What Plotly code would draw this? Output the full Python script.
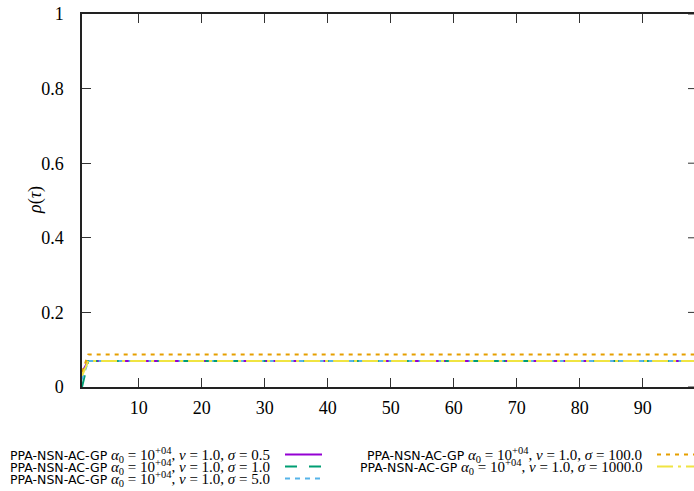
import plotly.graph_objects as go

# data
tau = [1, 2, 100]
sigma_labels = ["0.5", "1.0", "5.0", "100.0", "1000.0"]
rho_s05 = [0.040, 0.070, 0.070]
rho_s1 = [0.000, 0.070, 0.070]
rho_s5 = [0.020, 0.070, 0.070]
rho_s100 = [0.040, 0.087, 0.087]
rho_s1000 = [0.030, 0.070, 0.070]
rho_all = [rho_s05, rho_s1, rho_s5, rho_s100, rho_s1000]

x_ticks = [10, 20, 30, 40, 50, 60, 70, 80, 90, 100]
y_ticks = [0, 0.2, 0.4, 0.6, 0.8, 1]
y_ticklabels = ["0", "0.2", "0.4", "0.6", "0.8", "1"]

colors = ["#9400d3", "#009e73", "#56b4e9", "#e69f00", "#f0e442"]
dashes = ["solid", "12px,12px", "5px,5px", "4px,5px", "16px,5px,3px,5px"]

W, H = 694, 491
ML, MR, MT, MB = 82, 0, 14, 104
PW, PH = W - ML - MR, H - MT - MB

fig = go.Figure()
for ys, c, d in zip(rho_all, colors, dashes):
    fig.add_trace(go.Scatter(x=tau, y=ys, mode="lines",
                             line=dict(color=c, width=2, dash=d),
                             showlegend=False, hoverinfo="skip"))

serif = "Liberation Serif"
fig.update_layout(
    width=W, height=H,
    margin=dict(l=ML, r=MR, t=MT, b=MB),
    paper_bgcolor="white", plot_bgcolor="white",
    font=dict(family=serif, size=18, color="black"),
    xaxis=dict(range=[1, 1 + PW / 6.3], tickvals=x_ticks,
               ticks="inside", ticklen=9, tickwidth=1, tickcolor="#333",
               showline=True, linecolor="#222", linewidth=1.5, mirror="ticks",
               showgrid=False, zeroline=False,
               ticklabelstandoff=4,
               tickfont=dict(family=serif, size=18)),
    yaxis=dict(range=[0, 1], tickvals=y_ticks, ticktext=y_ticklabels,
               ticks="inside", ticklen=9, tickwidth=1, tickcolor="#333",
               showline=True, linecolor="#222", linewidth=1.5,
               showgrid=False, zeroline=False,
               tickfont=dict(family=serif, size=18),
               ticklabelstandoff=13),
)

# right-hand mirror ticks (border itself lies beyond the visible edge)
for yv in y_ticks:
    fig.add_shape(type="line", xref="paper", yref="y",
                  x0=1 - 6 / PW, x1=1, y0=yv, y1=yv,
                  line=dict(color="#333", width=1))

# y-axis title
fig.add_annotation(x=(35 - ML) / PW, y=(H - MB - 200) / PH, xref="paper",
                   yref="paper", text="<i>ρ</i>(<i>τ</i>)", textangle=-90,
                   showarrow=False, xanchor="center", yanchor="middle",
                   font=dict(family=serif, size=18, color="black"))

# legend (two columns, text right-aligned, sample on the right)
rows = [(272, 454.5, 0), (272, 466.5, 1), (272, 478.5, 2),
        (644, 454.5, 3), (644, 466.5, 4)]
for tx, ty, i in rows:
    xp = (tx - ML) / PW
    yp = (H - MB - ty) / PH
    txt = ('<span style="font-family:DejaVu Sans;font-size:12.5px">PPA-NSN-AC-GP</span> '
           '<i>α</i><sub>0</sub> = 10<sup>+04</sup>, '
           '<i>ν</i> = 1.0, <i>σ</i> = ' + sigma_labels[i])
    fig.add_annotation(x=xp, y=yp, xref="paper", yref="paper", text=txt,
                       showarrow=False, xanchor="right", yanchor="middle",
                       font=dict(family=serif, size=15, color="black"))
    x0 = (tx + 13 - ML) / PW
    x1 = (tx + 50 - ML) / PW
    fig.add_shape(type="line", xref="paper", yref="paper",
                  x0=x0, x1=x1, y0=yp, y1=yp,
                  line=dict(color=colors[i], width=2, dash=dashes[i]))

fig.write_html("out.html", config={"displayModeBar": False},
               post_script="document.body.style.margin='0';"
                           "document.body.style.overflow='hidden';")
